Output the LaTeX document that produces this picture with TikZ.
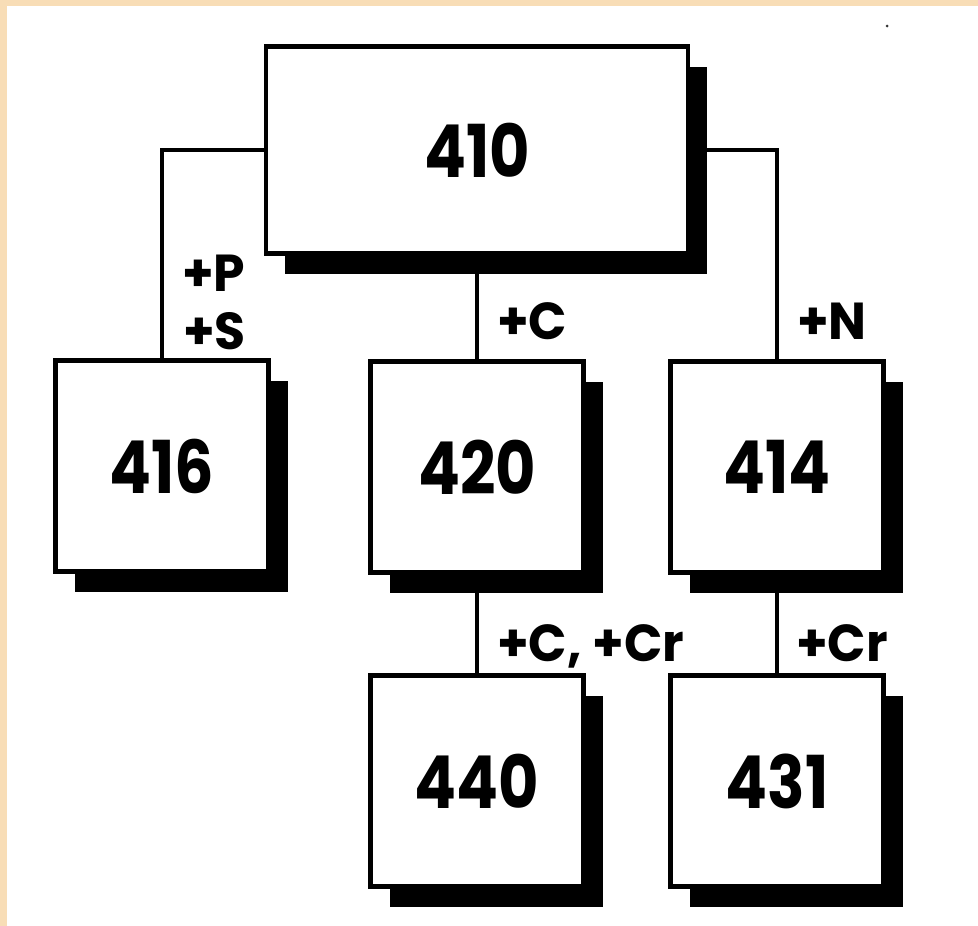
\documentclass[tikz,border=0pt]{standalone}
\usepackage{fontspec}
\usetikzlibrary{shadows}
\newfontfamily\boxfont{Poppins}[FakeStretch=0.85]
\newfontfamily\tagfont{Poppins}[FakeStretch=0.97]
\definecolor{parchment}{HTML}{F8DDB6}
\tikzset{
  stepbox/.style={draw=black, line width=4.5pt, fill=white, inner sep=0pt,
    minimum width=213pt, minimum height=211pt,
    font=\boxfont\bfseries\fontsize{73}{73}\selectfont,
    general shadow={fill=black, shadow xshift=19pt, shadow yshift=-20pt}},
  link/.style={draw=black, line width=3.5pt},
  tag/.style={anchor=base west, inner sep=0pt,
    font=\tagfont\bfseries\fontsize{52}{52}\selectfont}
}
\begin{document}
\begin{tikzpicture}[x=1pt, y=-1pt]
  % page: parchment edge and white sheet
  \fill[parchment] (0,0) rectangle (978,926);
  \fill[white] (7,6) rectangle (978,926);
  \useasboundingbox (0,0) rectangle (978,926);
  \fill[black!80] (887,26) circle (1.5pt);

  % boxes
  \node[stepbox, minimum width=422pt, minimum height=207pt] (n410) at (477,150) {410};
  \node[stepbox] (n416) at (162,466) {416};
  \node[stepbox] (n420) at (477,467) {420};
  \node[stepbox] (n414) at (777,467) {414};
  \node[stepbox] (n440) at (477,781) {440};
  \node[stepbox] (n431) at (777,781) {431};

  % connectors
  \draw[link] (n410.west) -| (n416.north);
  \draw[link] (n410.east) -| (n414.north);
  \draw[link] (n410.south) -- (n420.north);
  \draw[link] (n420.south) -- (n440.north);
  \draw[link] (n414.south) -- (n431.north);

  % connector labels
  \node[tag] (tP) at (182,291) {+P};
  \node[tag] (tS) at (183,349) {+S};
  \node[tag] (tC) at (497,339) {+C};
  \node[tag] (tN) at (797,339) {+N};
  \node[tag] (tCCr) at (497,661) {+C, +Cr};
  \node[tag] (tCr) at (796,661) {+Cr};
\end{tikzpicture}
\end{document}
